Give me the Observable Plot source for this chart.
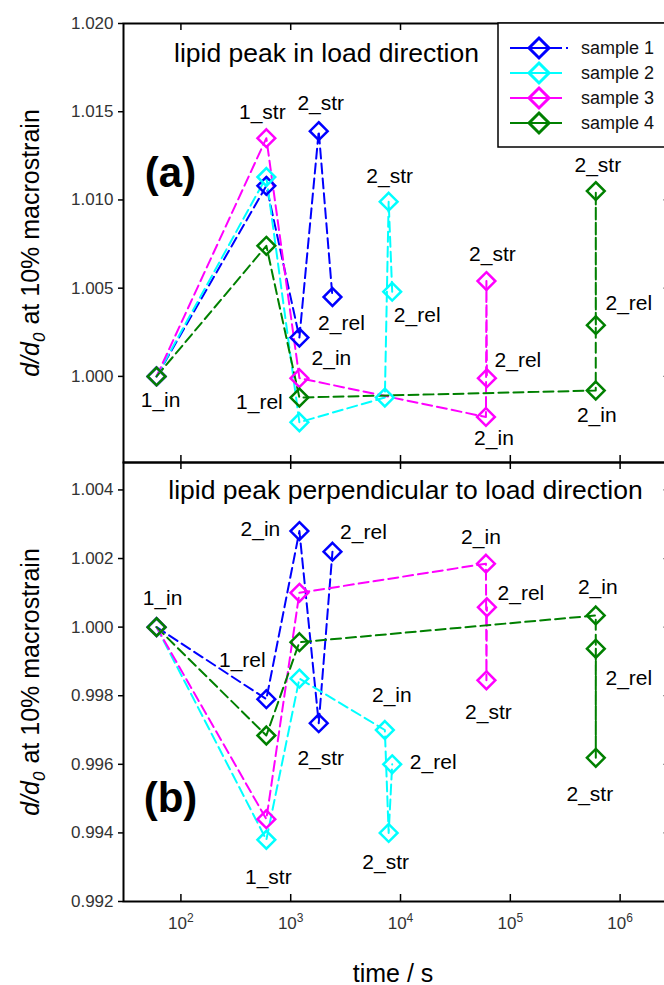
<!DOCTYPE html>
<html><head><meta charset="utf-8">
<script src="https://cdn.jsdelivr.net/npm/d3@7"></script>
<script src="https://cdn.jsdelivr.net/npm/@observablehq/plot@0.6"></script>
<style>
body{margin:0;background:#fff;}
#wrap{position:relative;width:664px;height:985px;overflow:hidden;font-family:"Liberation Sans",Arial,sans-serif;background:#fff;}
#wrap > svg{display:block;max-width:none !important;flex:none;}
g[aria-label="y-axis tick label"] text{fill:#333;}
</style></head><body><div id="wrap"></div>
<script>
const samples = ["sample 1", "sample 2", "sample 3", "sample 4"];
const colors = ["#0000ff", "#00ffff", "#ff00ff", "#008000"];

const s1Steps = ["1_in", "1_str", "1_rel", "2_str", "2_rel"];
const s1Time = [60, 600, 1200, 1800, 2400];
const s1Load = [1.0000, 1.0108, 1.0022, 1.0139, 1.0045];
const s1Perp = [1.0000, 0.9979, 1.0028, 0.9972, 1.0022];

const s2Steps = ["1_in", "1_str", "1_rel", "2_in", "2_str", "2_rel"];
const s2Time = [60, 600, 1200, 7200, 7800, 8400];
const s2Load = [1.0000, 1.0113, 0.9974, 0.9988, 1.0099, 1.0048];
const s2Perp = [1.0000, 0.9938, 0.9985, 0.9970, 0.9940, 0.9960];

const s3Steps = ["1_in", "1_str", "1_rel", "2_in", "2_str", "2_rel"];
const s3Time = [60, 600, 1200, 60000, 60600, 61200];
const s3Load = [1.0000, 1.0135, 0.9999, 0.9977, 1.0054, 0.9999];
const s3Perp = [1.0000, 0.9944, 1.0010, 1.00185, 0.99845, 1.00058];

const s4Steps = ["1_in", "1_str", "1_rel", "2_in", "2_str", "2_rel"];
const s4Time = [60, 600, 1200, 600000, 600600, 601200];
const s4Load = [1.0000, 1.0074, 0.9988, 0.9992, 1.0105, 1.0029];
const s4Perp = [1.0000, 0.99684, 0.99956, 1.00034, 0.99619, 0.99937];

const xTicks = [1e2, 1e3, 1e4, 1e5, 1e6];
const yTicksLoad = [1.000, 1.005, 1.010, 1.015, 1.020];
const yTicksPerp = [0.992, 0.994, 0.996, 0.998, 1.000, 1.002, 1.004];

const titleLoad = "lipid peak in load direction";
const titlePerp = "lipid peak perpendicular to load direction";
const yLabel = "d/d0 at 10% macrostrain";
const xLabel = "time / s";

// annotation labels: [sample index, point index, text, dx, dy]
const loadLabels = [
  [3, 0, "1_in", 4, 24], [2, 1, "1_str", -4, -26], [3, 2, "1_rel", -40, 5],
  [0, 2, "2_in", 32, 21], [0, 3, "2_str", 2, -28], [0, 4, "2_rel", 9, 26],
  [1, 4, "2_str", 1, -25], [1, 5, "2_rel", 25, 24],
  [2, 4, "2_str", 6, -27], [2, 5, "2_rel", 31, -18], [2, 3, "2_in", 8, 21],
  [3, 4, "2_str", 2, -26], [3, 5, "2_rel", 33, -22], [3, 3, "2_in", 1, 25]
];
const perpLabels = [
  [3, 0, "1_in", 6, -29], [0, 1, "1_rel", -24, -39], [0, 2, "2_in", -39, -2],
  [0, 4, "2_rel", 31, -19], [0, 3, "2_str", 2, 35],
  [2, 3, "2_in", -5, -26], [2, 5, "2_rel", 34, -14], [2, 4, "2_str", 2, 32],
  [3, 3, "2_in", 2, -28], [3, 5, "2_rel", 33, 30], [3, 4, "2_str", -6, 36],
  [1, 3, "2_in", 7, -35], [1, 5, "2_rel", 41, -2], [1, 4, "2_str", -3, 29],
  [1, 1, "1_str", 2, 37]
];

const series = [
  {steps: s1Steps, time: s1Time, load: s1Load, perp: s1Perp},
  {steps: s2Steps, time: s2Time, load: s2Load, perp: s2Perp},
  {steps: s3Steps, time: s3Time, load: s3Load, perp: s3Perp},
  {steps: s4Steps, time: s4Time, load: s4Load, perp: s4Perp}
];
const rows = series.flatMap((s, i) => s.steps.map((st, j) => ({
  sample: samples[i], si: i, pj: j, step: st, time: s.time[j], load: s.load[j], perp: s.perp[j]
})));

const FONT = "'Liberation Sans', Arial, sans-serif";
const NS = "http://www.w3.org/2000/svg";

function panel(cfg) {
  const H = cfg.height - cfg.marginTop - cfg.marginBottom;
  const W = 700 - 123 - 28;
  const labelMarks = cfg.labels.map(([si, pj, txt, dx, dy]) => {
    const r = rows.find(d => d.si === si && d.pj === pj);
    return Plot.text([r], {x: "time", y: cfg.key, text: () => txt, dx, dy,
      fontSize: 21, fill: "black", textAnchor: "middle", lineAnchor: "middle"});
  });
  const marks = [
    Plot.tickX(xTicks, {x: d => d, insetBottom: H - 7, stroke: "black", strokeWidth: 1.5}),
    Plot.tickX(xTicks, {x: d => d, insetTop: H - 7, stroke: "black", strokeWidth: 1.5}),
    Plot.tickY(cfg.yTicks, {y: d => d, insetLeft: W - 9, stroke: "#999", strokeWidth: 1.2}),
    Plot.axisY(cfg.yTicks, {anchor: "left", tickSize: 5, tickPadding: 5,
      tickFormat: d3.format(".3f"), fontSize: 17, label: null, strokeWidth: 1.5}),
    Plot.line(rows, {x: "time", y: cfg.key, z: "sample", stroke: "sample",
      strokeWidth: 2, strokeDasharray: "10,5"}),
    Plot.dot(rows, {x: "time", y: cfg.key, stroke: "sample", fill: "none",
      symbol: "diamond2", r: 8, strokeWidth: 2.5}),
    ...labelMarks,
    Plot.text([cfg.title], {frameAnchor: "top-left", dx: cfg.titleDx, dy: cfg.titleDy,
      textAnchor: "middle", lineAnchor: "bottom", fontSize: 26.5, fill: "black"}),
    Plot.text([cfg.tag], {frameAnchor: "top-left", dx: 47, dy: cfg.tagDy,
      textAnchor: "middle", lineAnchor: "middle", fontSize: 42, fontWeight: "bold", fill: "black"}),
    Plot.text([yLabel], {frameAnchor: "left", dx: -93, rotate: -90, textAnchor: "middle",
      lineAnchor: "middle", fontSize: 25, fill: "black"}),
    Plot.frame({stroke: "black", strokeWidth: 2})
  ];
  if (cfg.xAxis) {
    marks.push(Plot.text(xTicks, {x: d => d, frameAnchor: "bottom", dy: 15, lineAnchor: "top",
      text: d => "10^" + Math.round(Math.log10(d)), fontSize: 17, fill: "#333"}));
    marks.push(Plot.text([xLabel], {frameAnchor: "bottom", dx: -5, dy: 80, lineAnchor: "bottom",
      textAnchor: "middle", fontSize: 25, fill: "black"}));
  }
  const svg = Plot.plot({
    width: 700, height: cfg.height,
    marginLeft: 123, marginRight: 28, marginTop: cfg.marginTop, marginBottom: cfg.marginBottom,
    x: {type: "log", domain: [30, 3e6], axis: null},
    y: {domain: cfg.yDomain},
    color: {domain: samples, range: colors},
    style: {fontFamily: FONT, background: "transparent", overflow: "visible", maxWidth: "none"},
    marks
  });
  svg.setAttribute("width", 700);
  svg.setAttribute("height", cfg.height);
  svg.style.width = "700px";
  svg.style.height = cfg.height + "px";
  svg.querySelectorAll("text").forEach(t => {
    const s = t.textContent;
    if (s === yLabel) {
      t.textContent = "";
      const a = document.createElementNS(NS, "tspan"); a.setAttribute("font-style", "italic"); a.textContent = "d/d";
      const b = document.createElementNS(NS, "tspan"); b.setAttribute("font-style", "italic");
      b.setAttribute("font-size", "17"); b.setAttribute("dy", "6"); b.textContent = "0";
      const c = document.createElementNS(NS, "tspan"); c.setAttribute("dy", "-6"); c.setAttribute("dx", "8");
      c.textContent = "at 10% macrostrain";
      t.append(a, b, c);
    } else if (/^10\^\d$/.test(s)) {
      const [base, ex] = s.split("^");
      t.textContent = base;
      const e = document.createElementNS(NS, "tspan");
      e.setAttribute("font-size", "12"); e.setAttribute("dy", "-7"); e.textContent = ex;
      t.append(e);
    }
  });
  return svg;
}

const wrap = document.getElementById("wrap");
wrap.append(panel({key: "load", yDomain: [0.99512, 1.020], yTicks: yTicksLoad,
  height: 462, marginTop: 23, marginBottom: 0, labels: loadLabels,
  title: titleLoad, titleDx: 203, titleDy: 38, tag: "(a)", tagDy: 150, xAxis: false}));
wrap.append(panel({key: "perp", yDomain: [0.992, 1.0048], yTicks: yTicksPerp,
  height: 523, marginTop: 0, marginBottom: 84, labels: perpLabels,
  title: titlePerp, titleDx: 282, titleDy: 36, tag: "(b)", tagDy: 336, xAxis: true}));

// legend overlay
const leg = d3.select(wrap).append("svg")
  .style("position", "absolute").style("left", "0px").style("top", "0px")
  .attr("width", 664).attr("height", 985).style("pointer-events", "none");
leg.append("rect").attr("x", 498).attr("y", 23).attr("width", 200).attr("height", 124)
  .attr("fill", "white").attr("stroke", "black").attr("stroke-width", 1.5);
samples.forEach((name, i) => {
  const cy = 48 + i * 25;
  const g = leg.append("g");
  g.append("line").attr("x1", 510).attr("x2", 562).attr("y1", cy).attr("y2", cy)
    .attr("stroke", colors[i]).attr("stroke-width", 2);
  if (i === 0) g.append("line").attr("x1", 566).attr("x2", 568).attr("y1", cy).attr("y2", cy)
    .attr("stroke", colors[i]).attr("stroke-width", 2);
  g.append("path").attr("d", `M539,${cy - 10}L549,${cy}L539,${cy + 10}L529,${cy}Z`)
    .attr("fill", "none").attr("stroke", colors[i]).attr("stroke-width", 3);
  g.append("text").attr("x", 581).attr("y", cy).attr("dy", "0.35em")
    .attr("font-size", 18).attr("font-family", FONT).attr("fill", "#111").text(name);
});
</script>
</body></html>
